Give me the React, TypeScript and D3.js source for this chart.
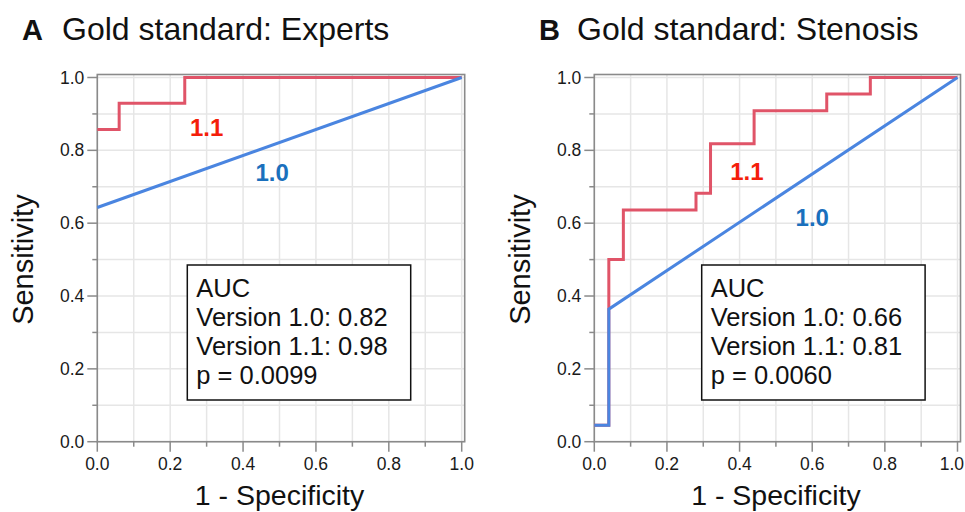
import React from "react";
import * as d3 from "d3";

// ---- Data ----
const panelLetters = ["A", "B"];
const panelTitles = ["Gold standard: Experts", "Gold standard: Stenosis"];

// Panel A: ROC points (1 - specificity, sensitivity)
const aV11Fpr = [0, 0.06, 0.24, 1.0];
const aV11Tpr = [0.857, 0.929, 1.0, 1.0];
const aV10Fpr = [0, 1.0];
const aV10Tpr = [0.643, 1.0];

// Panel B
const bV11Fpr = [0, 0.04, 0.08, 0.28, 0.32, 0.44, 0.64, 0.76, 1.0];
const bV11Tpr = [0.045, 0.5, 0.636, 0.682, 0.818, 0.909, 0.955, 1.0, 1.0];
const bV10Fpr = [0, 0.04, 0.04, 1.0];
const bV10Tpr = [0.045, 0.045, 0.364, 1.0];

const aucLines = [
  ["AUC", "Version 1.0: 0.82", "Version 1.1: 0.98", "p = 0.0099"],
  ["AUC", "Version 1.0: 0.66", "Version 1.1: 0.81", "p = 0.0060"],
];

const majorTicks = [0, 0.2, 0.4, 0.6, 0.8, 1.0];
const minorTicks = [0.1, 0.3, 0.5, 0.7, 0.9];
const gridValues = [0, 0.1, 0.2, 0.3, 0.4, 0.5, 0.6, 0.7, 0.8, 0.9, 1.0];

const xAxisTitle = "1 - Specificity";
const yAxisTitle = "Sensitivity";

// label anchor positions in data coords
const seriesLabels = [
  { v11: [0.3, 0.84], v10: [0.48, 0.715] },
  { v11: [0.42, 0.718], v10: [0.6, 0.593] },
];

// ---- Styling ----
const FONT = "'Liberation Sans', Arial, Helvetica, sans-serif";
const RED_LINE = "#e05468";
const BLUE_LINE = "#4a85e0";
const RED_TEXT = "#f41e0a";
const BLUE_TEXT = "#1a70bd";
const FRAME = "#8a8a8a";
const GRID = "#e6e6e6";
const W = 965;

const panels = [
  {
    x0: 97.3, x1: 461.7, letterX: 22, titleX: 62,
    v11: { fpr: aV11Fpr, tpr: aV11Tpr, step: true },
    v10: { fpr: aV10Fpr, tpr: aV10Tpr, step: false },
    box: { left: 187.3, top: 265, w: 223.4, h: 135 },
  },
  {
    x0: 594.3, x1: 957.5, letterX: 539, titleX: 577,
    v11: { fpr: bV11Fpr, tpr: bV11Tpr, step: true },
    v10: { fpr: bV10Fpr, tpr: bV10Tpr, step: false },
    box: { left: 701.7, top: 265, w: 223.4, h: 135 },
  },
];

const Y_TOP = 77.5;
const Y_BOT = 441.7;

function Panel({ idx }: { idx: number }) {
  const p = panels[idx];
  const xs = d3.scaleLinear().domain([0, 1]).range([p.x0, p.x1]);
  const ys = d3.scaleLinear().domain([0, 1]).range([Y_BOT, Y_TOP]);

  const mk = (s: { fpr: number[]; tpr: number[]; step: boolean }) => {
    const pts = s.fpr.map((f, i) => [f, s.tpr[i]] as [number, number]);
    const gen = d3
      .line<[number, number]>()
      .x((d) => xs(d[0]))
      .y((d) => ys(d[1]))
      .curve(s.step ? d3.curveStepAfter : d3.curveLinear);
    return gen(pts) || "";
  };

  const lbl = seriesLabels[idx];
  const cx = (p.x0 + p.x1) / 2;
  const cy = (Y_TOP + Y_BOT) / 2;

  return (
    <g>
      {/* title */}
      <text x={p.letterX} y={40} fontFamily={FONT} fontSize={29} fontWeight="bold" fill="#111">
        {panelLetters[idx]}
      </text>
      <text x={p.titleX} y={40} fontFamily={FONT} fontSize={32} fill="#111">
        {panelTitles[idx]}
      </text>

      {/* grid */}
      {gridValues.map((v) => (
        <line key={"gx" + v} x1={xs(v)} x2={xs(v)} y1={ys(1) - 3} y2={ys(0)} stroke={GRID} strokeWidth={1.5} />
      ))}
      {gridValues.map((v) => (
        <line key={"gy" + v} x1={xs(0)} x2={xs(1) + 3} y1={ys(v)} y2={ys(v)} stroke={GRID} strokeWidth={1.5} />
      ))}

      {/* frame */}
      <rect x={xs(0)} y={ys(1) - 3} width={xs(1) + 3 - xs(0)} height={ys(0) - ys(1) + 3}
        fill="none" stroke={FRAME} strokeWidth={1.6} />

      {/* y ticks */}
      {majorTicks.map((v) => (
        <g key={"yt" + v}>
          <line x1={xs(0) - 10} x2={xs(0)} y1={ys(v)} y2={ys(v)} stroke={FRAME} strokeWidth={1.5} />
          <text x={xs(0) - 13} y={ys(v) + 6} textAnchor="end" fontFamily={FONT} fontSize={17.5} fill="#1a1a1a">
            {v.toFixed(1)}
          </text>
        </g>
      ))}
      {minorTicks.map((v) => (
        <line key={"ym" + v} x1={xs(0) - 5} x2={xs(0)} y1={ys(v)} y2={ys(v)} stroke={FRAME} strokeWidth={1.5} />
      ))}

      {/* x ticks */}
      {majorTicks.map((v) => {
        const tx = xs(v);
        const overflow = tx + 13 > W - 1;
        return (
          <g key={"xt" + v}>
            <line x1={tx} x2={tx} y1={ys(0)} y2={ys(0) + 10} stroke={FRAME} strokeWidth={1.5} />
            <text x={overflow ? W - 1 : tx} y={470} textAnchor={overflow ? "end" : "middle"}
              fontFamily={FONT} fontSize={17.5} fill="#1a1a1a">
              {v.toFixed(1)}
            </text>
          </g>
        );
      })}
      {minorTicks.map((v) => (
        <line key={"xm" + v} x1={xs(v)} x2={xs(v)} y1={ys(0)} y2={ys(0) + 5} stroke={FRAME} strokeWidth={1.5} />
      ))}

      {/* axis titles */}
      <text x={cx} y={505} textAnchor="middle" fontFamily={FONT} fontSize={28.5} fill="#111">
        {xAxisTitle}
      </text>
      <text transform={`translate(${p.x0 - 64},${cy}) rotate(-90)`} textAnchor="middle"
        fontFamily={FONT} fontSize={29} fill="#111">
        {yAxisTitle}
      </text>

      {/* curves */}
      <path d={mk(p.v11)} fill="none" stroke={RED_LINE} strokeWidth={3} />
      <path d={mk(p.v10)} fill="none" stroke={BLUE_LINE} strokeWidth={3} />

      {/* series labels */}
      <text x={xs(lbl.v11[0])} y={ys(lbl.v11[1])} textAnchor="middle" fontFamily={FONT}
        fontSize={24} fontWeight="bold" fill={RED_TEXT}>1.1</text>
      <text x={xs(lbl.v10[0])} y={ys(lbl.v10[1])} textAnchor="middle" fontFamily={FONT}
        fontSize={24} fontWeight="bold" fill={BLUE_TEXT}>1.0</text>

      {/* AUC box */}
      <rect x={p.box.left} y={p.box.top} width={p.box.w} height={p.box.h} fill="#fff" stroke="#111" strokeWidth={1.5} />
      {aucLines[idx].map((t, i) => (
        <text key={i} x={p.box.left + 9} y={p.box.top + 32 + i * 29} fontFamily={FONT} fontSize={25.5} fill="#111">
          {t}
        </text>
      ))}
    </g>
  );
}

export default function App() {
  return (
    <svg width={W} height={512} style={{ position: "absolute", left: 0, top: 0, background: "#fff" }}>
      <rect width={W} height={512} fill="#fff" />
      <Panel idx={0} />
      <Panel idx={1} />
    </svg>
  );
}
